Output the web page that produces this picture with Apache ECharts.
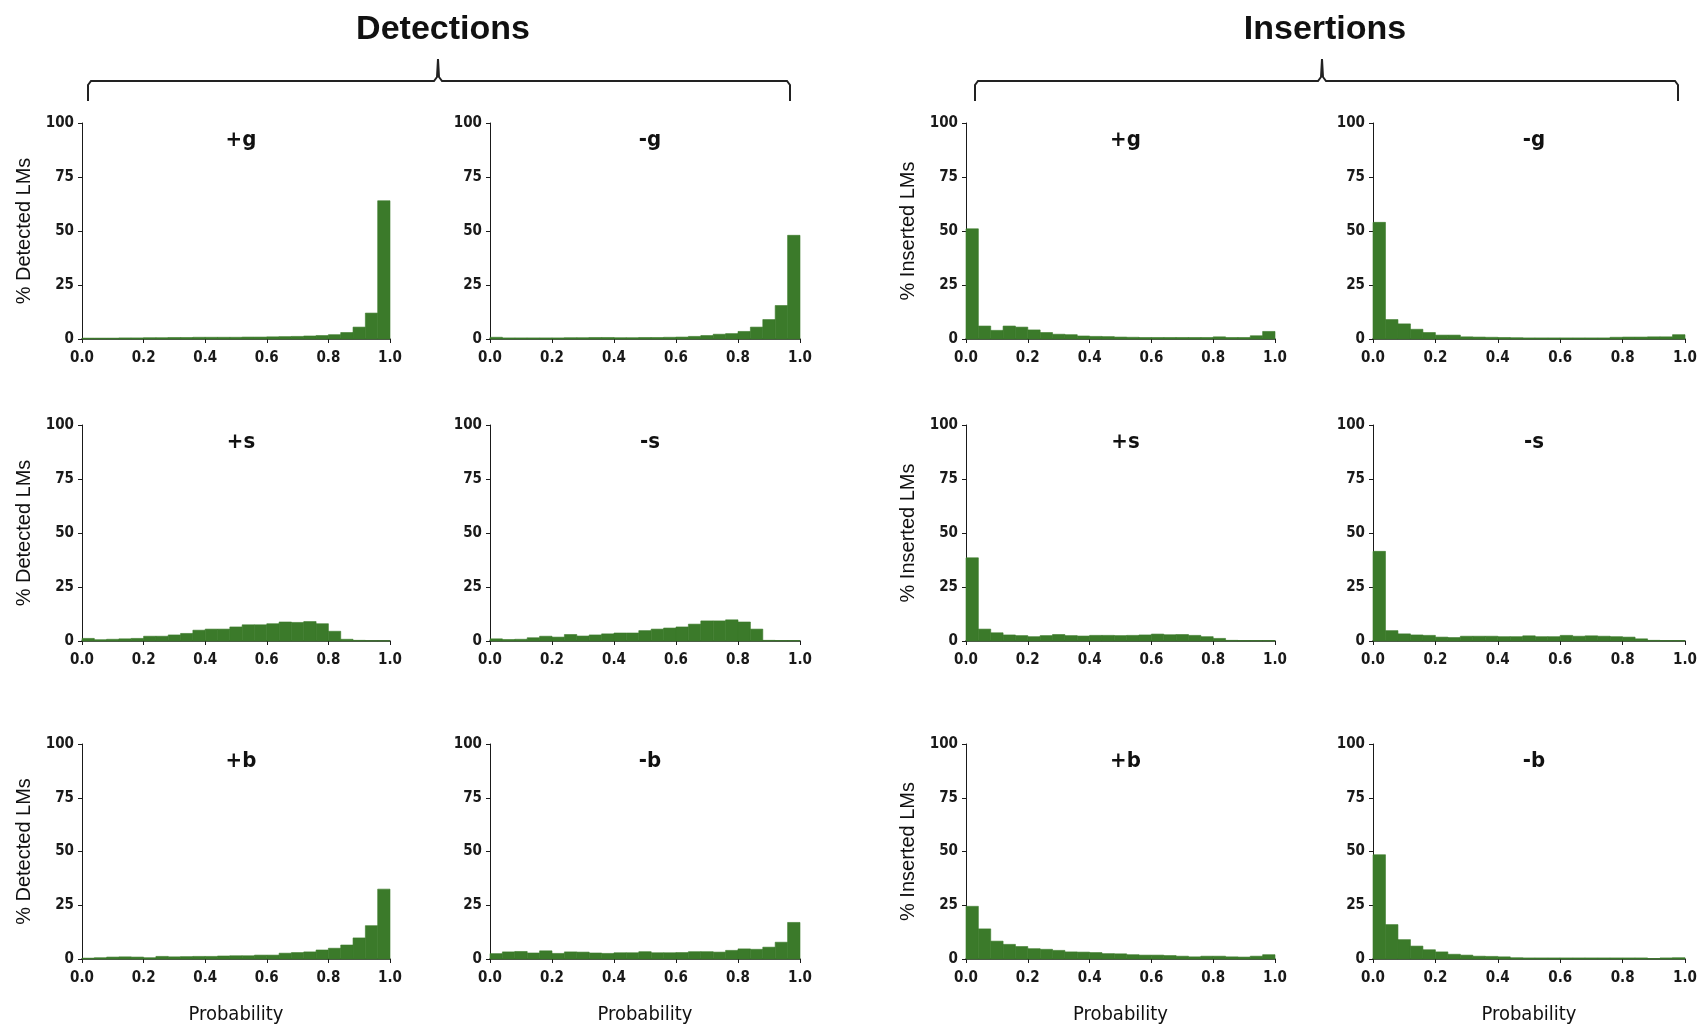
<!DOCTYPE html>
<html>
<head>
<meta charset="utf-8">
<script src="https://cdn.jsdelivr.net/npm/echarts@6/dist/echarts.min.js"></script>
<style>
html,body{margin:0;padding:0;background:#fff;}
#chart{width:1703px;height:1026px;}
</style>
</head>
<body>
<div id="chart"></div>
<script>
// ---- data ----
const binEdges = [0.00,0.04,0.08,0.12,0.16,0.20,0.24,0.28,0.32,0.36,0.40,0.44,0.48,0.52,0.56,0.60,0.64,0.68,0.72,0.76,0.80,0.84,0.88,0.92,0.96,1.00];
const xTickLabels = ['0.0','0.2','0.4','0.6','0.8','1.0'];
const yTickLabels = ['0','25','50','75','100'];
const groupTitles = ['Detections','Insertions'];
const panelTitles = ['+g','-g','+s','-s','+b','-b'];
const yAxisNames = ['% Detected LMs','% Inserted LMs'];
const xAxisName = 'Probability';

const detPlusG  = [0.4,0.4,0.4,0.5,0.5,0.6,0.6,0.7,0.7,0.8,0.8,0.8,0.8,0.9,0.9,1.0,1.1,1.2,1.4,1.6,2.0,3.0,5.5,12,64];
const detMinusG = [0.8,0.5,0.5,0.5,0.5,0.5,0.6,0.6,0.7,0.7,0.6,0.6,0.7,0.7,0.8,0.9,1.2,1.6,2.2,2.5,3.5,5.5,9,15.5,48];
const insPlusG  = [51,6,4,6,5.5,4.2,3,2.2,2,1.4,1.2,1.1,0.9,0.8,0.7,0.7,0.7,0.7,0.7,0.7,1.0,0.7,0.7,1.5,3.5];
const insMinusG = [54,9,7,4.5,3,1.8,1.8,1.0,0.9,0.8,0.7,0.6,0.5,0.5,0.5,0.5,0.5,0.5,0.5,0.8,0.9,0.9,1.0,1.0,2.0];
const detPlusS  = [1.2,0.6,0.8,1.0,1.2,2.2,2.2,2.8,3.5,5.0,5.5,5.5,6.5,7.5,7.5,8.0,8.8,8.6,9.0,8.0,4.5,0.8,0.3,0.1,0.1];
const detMinusS = [1.0,0.7,0.8,1.5,2.2,1.8,3.0,2.3,2.8,3.3,3.7,3.7,4.8,5.5,6.0,6.5,7.8,9.3,9.3,9.8,8.8,5.5,0.3,0.2,0.2];
const insPlusS  = [38.5,5.5,3.8,2.8,2.5,2.0,2.5,3.0,2.5,2.3,2.6,2.6,2.5,2.6,2.8,3.2,2.9,3.0,2.6,2.0,1.2,0.3,0.2,0.2,0.2];
const insMinusS = [41.5,4.8,3.3,2.8,2.6,1.8,1.6,2.2,2.2,2.2,2.0,2.0,2.4,2.0,2.0,2.6,2.2,2.4,2.2,2.0,1.8,1.0,0.3,0.2,0.2];
const detPlusB  = [0.4,0.6,0.9,1.0,0.9,0.6,1.2,1.0,1.1,1.2,1.2,1.4,1.5,1.5,1.8,1.8,2.7,3.0,3.3,4.2,5.0,6.5,9.8,15.5,32.5];
const detMinusB = [2.5,3.3,3.5,2.8,3.8,2.6,3.3,3.2,2.8,2.6,2.9,2.9,3.4,2.9,2.9,3.0,3.4,3.4,3.2,4.0,4.7,4.5,5.5,7.8,17];
const insPlusB  = [24.5,14,8.3,6.8,5.8,4.8,4.5,4.0,3.3,3.2,3.0,2.5,2.4,2.0,1.8,1.8,1.6,1.3,1.0,1.3,1.3,1.0,0.9,1.3,2.0];
const insMinusB = [48.5,16,9,6,4.3,3.3,2.2,1.8,1.3,1.2,1.0,0.6,0.5,0.5,0.5,0.5,0.5,0.5,0.5,0.5,0.5,0.5,0.2,0.5,0.6];

// rows: g, s, b ; cols: det+, det-, ins+, ins-
const panelData = [
  [detPlusG, detMinusG, insPlusG, insMinusG],
  [detPlusS, detMinusS, insPlusS, insMinusS],
  [detPlusB, detMinusB, insPlusB, insMinusB]
];

// ---- layout ----
const colLeft = [82, 490, 966, 1373];
const colWidth = [308, 310, 309, 312];
const rowTop = [123, 425, 744];
const plotH = 216;
const GREEN = '#3b7a2a';
const AXIS = '#1a1a1a';
const NARROW = "'Liberation Sans Narrow','Arial Narrow','DejaVu Sans Condensed','Liberation Sans',Arial,sans-serif";
const SANS = "'Liberation Sans',Arial,Helvetica,sans-serif";

const grids = [], xAxes = [], yAxes = [], series = [], titles = [];
let idx = 0;
for (let r = 0; r < 3; r++) {
  for (let c = 0; c < 4; c++) {
    grids.push({left: colLeft[c], top: rowTop[r], width: colWidth[c], height: plotH, containLabel: false});
    xAxes.push({
      gridIndex: idx, type: 'value', min: 0, max: 1, interval: 0.2,
      axisLine: {show: true, lineStyle: {color: AXIS, width: 1.5}},
      axisTick: {show: true, length: 4, lineStyle: {color: AXIS}},
      axisLabel: {fontFamily: NARROW, fontSize: 15, fontWeight: 'bold', color: '#1a1a1a', margin: 12,
        formatter: v => xTickLabels[Math.round(v / 0.2)]},
      splitLine: {show: false},
      name: r === 2 ? xAxisName : '', nameLocation: 'middle', nameGap: 46,
      nameTextStyle: {fontFamily: NARROW, fontSize: 20, color: '#111'}
    });
    yAxes.push({
      gridIndex: idx, type: 'value', min: 0, max: 100, interval: 25,
      axisLine: {show: true, lineStyle: {color: AXIS, width: 1}},
      axisTick: {show: true, length: 4, lineStyle: {color: AXIS}},
      axisLabel: {fontFamily: NARROW, fontSize: 15, fontWeight: 'bold', color: '#1a1a1a', margin: 8,
        formatter: v => yTickLabels[Math.round(v / 25)]},
      splitLine: {show: false},
      name: (c === 0 || c === 2) ? yAxisNames[c === 0 ? 0 : 1] : '',
      nameLocation: 'middle', nameGap: 48, nameRotate: 90,
      nameTextStyle: {fontFamily: SANS, fontSize: 20, color: '#111'}
    });
    const vals = panelData[r][c];
    series.push({
      type: 'custom', xAxisIndex: idx, yAxisIndex: idx,
      data: vals.map((v, i) => [binEdges[i], binEdges[i + 1], v]),
      encode: {x: [0, 1], y: 2},
      renderItem: (params, api) => {
        const p0 = api.coord([api.value(0), api.value(2)]);
        const p1 = api.coord([api.value(1), 0]);
        return {type: 'rect', shape: {x: p0[0], y: p0[1], width: p1[0] - p0[0], height: p1[1] - p0[1]},
          style: {fill: GREEN, stroke: GREEN, lineWidth: 0.6}};
      },
      z: 1
    });
    titles.push({
      text: panelTitles[r * 2 + (c % 2)],
      left: colLeft[c] + colWidth[c] / 2, top: rowTop[r] + 1, textAlign: 'center',
      textStyle: {fontFamily: NARROW, fontSize: 22, fontWeight: 'bold', color: '#111'}
    });
    idx++;
  }
}
titles.push({text: groupTitles[0], left: 438, top: 8, textAlign: 'center',
  textStyle: {fontFamily: SANS, fontSize: 34, fontWeight: 'bold', color: '#111'}});
titles.push({text: groupTitles[1], left: 1320, top: 8, textAlign: 'center',
  textStyle: {fontFamily: SANS, fontSize: 34, fontWeight: 'bold', color: '#111'}});

function brace(x0, xm, x1) {
  const yb = 101, yh = 81, yt = 59;
  return {
    type: 'polyline', silent: true,
    shape: {points: [[x0, yb], [x0, yh + 4], [x0 + 3, yh], [xm - 4, yh], [xm - 1, yh - 4], [xm, yt],
                     [xm + 1, yh - 4], [xm + 4, yh], [x1 - 3, yh], [x1, yh + 4], [x1, yb]], smooth: 0},
    style: {stroke: '#222', lineWidth: 2, fill: null}
  };
}

const chart = echarts.init(document.getElementById('chart'), null, {renderer: 'canvas'});
chart.setOption({
  backgroundColor: '#fff',
  animation: false,
  title: titles,
  grid: grids,
  xAxis: xAxes,
  yAxis: yAxes,
  series: series,
  graphic: [brace(88, 438, 790), brace(975, 1322, 1678)]
});
</script>
</body>
</html>
